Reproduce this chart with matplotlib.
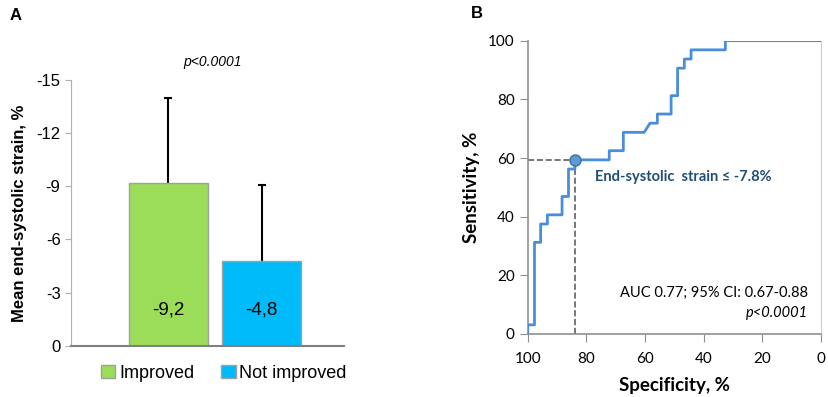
import numpy as np
import matplotlib.pyplot as plt
from matplotlib.patches import Patch

plt.rcParams['axes.unicode_minus'] = False

# Panel A data
grupos = ["Improved", "Not improved"]
media = [-9.2, -4.8]
error_sup = [4.8, 4.3]
etiquetas = ["-9,2", "-4,8"]
colores = ["#9BDC58", "#00BBF9"]

# Panel B data (ROC, specificity %, sensitivity %)
especificidad = [100, 100, 97.7, 97.7, 95.6, 95.6, 93.3, 93.3, 88.3, 88.3, 86.1, 86.1,
                 83.9, 83.9, 72.2, 72.2, 67.4, 67.4, 60.3, 58.3, 55.8, 55.8, 51.1, 51.1,
                 48.9, 48.9, 46.6, 46.6, 44.3, 44.3, 32.6, 32.6, 0]
sensibilidad = [0, 3.125, 3.125, 31.25, 31.25, 37.5, 37.5, 40.625, 40.625, 46.875, 46.875, 56.25,
                56.25, 59.375, 59.375, 62.5, 62.5, 68.75, 68.75, 71.875, 71.875, 75, 75, 81.25,
                81.25, 90.625, 90.625, 93.75, 93.75, 96.875, 96.875, 100, 100]
corte = (84, 59.375)

fig = plt.figure(figsize=(8.29, 3.97), dpi=100)

## Panel A
axA = fig.add_axes([0.0856, 0.1292, 0.3294, 0.6693])
x = np.array([0, 1])
axA.bar(x, media, width=0.845, color=colores, edgecolor="#a0a0a0", linewidth=1, zorder=2)
# el error va hacia valores mas negativos (arriba, eje invertido), solo con tapa arriba
axA.errorbar(x, media, yerr=[error_sup, np.zeros(2)], fmt="none", ecolor="black",
             elinewidth=1.5, capsize=0, zorder=1)
axA.plot(x, np.array(media) - np.array(error_sup), ls="none", marker="_", color="black",
         ms=6, mew=1.5, zorder=1)
for xi, et in zip(x, etiquetas):
    axA.text(xi, -2.0, et, ha="center", va="center", fontsize=13.5, family="Liberation Sans")
axA.text(0.476, -16.0, "p<0.0001", ha="center", va="center", fontsize=10,
         style="italic", family="Liberation Sans")
axA.set_ylim(0, -15)
axA.set_xlim(-1.04, 1.88)
axA.set_yticks([0, -3, -6, -9, -12, -15])
axA.set_xticks([])
axA.tick_params(axis="y", labelsize=12, colors="#b0b0b0", labelcolor="black", length=4)
for lab in axA.get_yticklabels():
    lab.set_family("Liberation Sans")
axA.spines["top"].set_visible(False)
axA.spines["right"].set_visible(False)
axA.spines["left"].set_color("#b0b0b0")
axA.spines["bottom"].set_color("#808080")
axA.spines["bottom"].set_linewidth(1.5)
axA.set_ylabel("Mean end-systolic strain, %", fontsize=12, fontweight="bold",
               family="Liberation Sans", labelpad=7)
manejadores = [Patch(facecolor=c, edgecolor="#a0a0a0") for c in colores]
axA.legend(manejadores, grupos, loc="upper center", bbox_to_anchor=(0.56, -0.01), ncol=2,
           frameon=False, prop={"family": "Liberation Sans", "size": 13},
           handlelength=0.8, handleheight=0.8, handletextpad=0.2, columnspacing=1.5)
fig.text(0.012, 0.962, "A", fontsize=12, fontweight="bold", family="Liberation Sans",
         va="center")

## Panel B
axB = fig.add_axes([0.6366, 0.1587, 0.3537, 0.7388])
axB.plot(especificidad, sensibilidad, color="#4A8DDC", lw=2, zorder=3)
axB.plot([100, corte[0]], [corte[1], corte[1]], ls="--", color="#606060", lw=1.2, zorder=2)
axB.plot([corte[0], corte[0]], [0, corte[1]], ls="--", color="#606060", lw=1.2, zorder=2)
axB.plot(*corte, "o", color="#5B9BD5", markeredgecolor="#41719C", ms=8, zorder=4)
axB.text(77, 53.6, "End-systolic  strain \u2264 -7.8%", fontsize=10.5, fontweight="bold",
         color="#1F4E79", family="Lato", va="center")
axB.text(4.3, 13.9, "AUC 0.77; 95% CI: 0.67-0.88", fontsize=10.5, ha="right", va="center",
         family="Lato")
axB.text(4.3, 7.0, "p<0.0001", fontsize=10.5, ha="right", va="center", style="italic",
         family="Lato")
axB.set_xlim(100, 0)
axB.set_ylim(0, 100)
axB.set_xticks([100, 80, 60, 40, 20, 0])
axB.set_yticks([0, 20, 40, 60, 80, 100])
axB.tick_params(colors="#909090", labelcolor="black", labelsize=11, length=6)
axB.tick_params(axis="x", pad=7)
for lab in axB.get_xticklabels() + axB.get_yticklabels():
    lab.set_family("Lato")
for s in ["left", "bottom"]:
    axB.spines[s].set_color("#909090")
    axB.spines[s].set_linewidth(1.2)
axB.spines["top"].set_visible(False)
axB.spines["right"].set_color("#d0d0d0")
axB.set_xlabel("Specificity, %", fontsize=13.5, fontweight="bold", family="Lato", labelpad=8)
axB.set_ylabel("Sensitivity, %", fontsize=13.5, fontweight="bold", family="Lato", labelpad=6)
fig.text(0.568, 0.967, "B", fontsize=12, fontweight="bold", family="Liberation Sans",
         va="center")

fig.savefig("out.png", dpi=100)
